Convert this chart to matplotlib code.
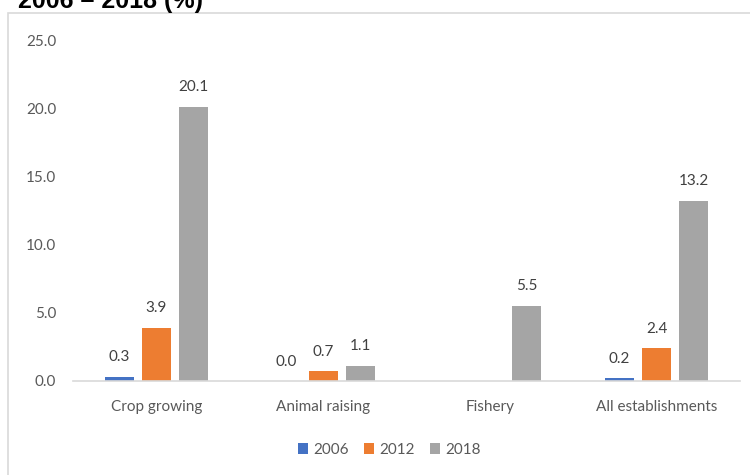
import numpy as np
import matplotlib.pyplot as plt
from matplotlib.patches import Rectangle

FONT_SIZE = 11

# data
categories = ["Crop growing", "Animal raising", "Fishery", "All establishments"]
years = ["2006", "2012", "2018"]
v2006 = [0.3, 0.0, np.nan, 0.2]
v2012 = [3.9, 0.7, np.nan, 2.4]
v2018 = [20.1, 1.1, 5.5, 13.2]
yticks = [0, 5, 10, 15, 20, 25]
colors = ["#4472C4", "#ED7D31", "#A5A5A5"]

plt.rcParams["font.family"] = ["Lato", "DejaVu Sans"]

fig = plt.figure(figsize=(7.5, 4.75), dpi=100)
ax = fig.add_axes([73 / 750, 1 - 381 / 475, 667 / 750, 341 / 475])

# chart frame (cropped) and clipped title
fig.patches.append(Rectangle((8 / 750, -0.2), 1.2, 1.2 - 13 / 475, transform=fig.transFigure,
                             fill=False, edgecolor="#D9D9D9", linewidth=1.2, zorder=0))
fig.text(203 / 750, 1 - 8 / 475, "2006 \u2013 2018 (%)", ha="right", va="baseline",
         fontsize=18, fontweight="bold", family="Liberation Sans", color="black")

x = np.arange(len(categories))
width = 29 / 166.7
step = 37 / 166.7
for i, (vals, yr) in enumerate(zip([v2006, v2012, v2018], years)):
    pos = x + (i - 1) * step
    ax.bar(pos, vals, width=width, color=colors[i], label=yr, zorder=2)
    for p, v in zip(pos, vals):
        if np.isnan(v):
            continue
        ax.annotate("%.1f" % v, (p, v), xytext=(0, 9), textcoords="offset points",
                    ha="center", va="bottom", fontsize=11, color="#404040")

ax.set_xlim(-0.5, len(categories) - 0.5)
ax.set_ylim(0, 25)
ax.set_yticks(yticks)
ax.set_yticklabels(["%.1f" % t for t in yticks])
ax.set_xticks(x)
ax.set_xticklabels(categories)
ax.tick_params(axis="both", length=0, labelsize=FONT_SIZE, labelcolor="#595959")
ax.tick_params(axis="y", pad=12)
ax.tick_params(axis="x", pad=14)
for s in ["top", "right", "left"]:
    ax.spines[s].set_visible(False)
ax.spines["bottom"].set_color("#D9D9D9")
ax.spines["bottom"].set_linewidth(1.2)
ax.patch.set_alpha(0)

fig.legend(loc="center", bbox_to_anchor=(389 / 750, 1 - 450 / 475), ncol=3, frameon=False,
           fontsize=FONT_SIZE, handlelength=0.7, handleheight=0.7, handletextpad=0.3,
           columnspacing=1.0, labelcolor="#595959")

fig.savefig("out.png", dpi=100)
